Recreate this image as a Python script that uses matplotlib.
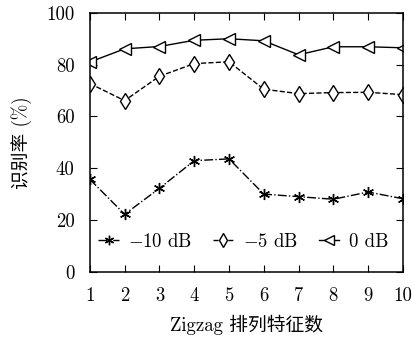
import numpy as np
import matplotlib.pyplot as plt

plt.rcParams['font.family'] = ['cmr10', 'Noto Sans CJK SC']
plt.rcParams['mathtext.fontset'] = 'cm'
plt.rcParams['axes.unicode_minus'] = False

n_feat = [1, 2, 3, 4, 5, 6, 7, 8, 9, 10]
snr_m10 = [35.7, 22.2, 32.2, 42.9, 43.6, 30.0, 29.0, 28.0, 30.8, 28.2]
snr_m5 = [72.7, 66.1, 75.5, 80.4, 81.1, 70.5, 68.8, 69.2, 69.3, 68.4]
snr_0 = [81.0, 86.1, 87.0, 89.4, 90.0, 89.2, 83.8, 86.9, 86.9, 86.5]
labels = ['$-$10 dB', '$-$5 dB', '0 dB']

fig = plt.figure(figsize=(4.12, 3.38), dpi=100)
ax = fig.add_axes([0.218, 0.196, 0.76, 0.766])

ax.plot(n_feat, snr_m10, color='black', linestyle='-.', linewidth=1.0,
        marker=(6, 2, 0), markersize=8, markeredgewidth=1.0, label=labels[0])
ax.plot(n_feat, snr_m5, color='black', linestyle='--', linewidth=1.0,
        marker='d', markersize=8.5, markerfacecolor='white', markeredgewidth=1.0, label=labels[1])
ax.plot(n_feat, snr_0, color='black', linestyle='-', linewidth=1.0,
        marker='<', markersize=8.5, markerfacecolor='white', markeredgewidth=1.0, label=labels[2])

ax.set_xlim(1, 10)
ax.set_ylim(0, 100)
ax.set_xticks(n_feat)
ax.set_yticks([0, 20, 40, 60, 80, 100])
ax.tick_params(direction='in', top=True, right=True, labelsize=13.5, length=5, pad=11)
for s in ax.spines.values():
    s.set_linewidth(1.1)

ax.set_xlabel('Zigzag 排列特征数', fontsize=13.5, labelpad=7)
ax.set_ylabel('识别率 (%)', fontsize=13.5, labelpad=10)

ax.legend(loc='lower center', bbox_to_anchor=(0.49, 0.03), ncol=3, frameon=False,
          fontsize=13.5, handlelength=1.1, handletextpad=0.5, columnspacing=1.1,
          markerscale=0.85, borderpad=0.2)

fig.savefig('out.png', dpi=100)
